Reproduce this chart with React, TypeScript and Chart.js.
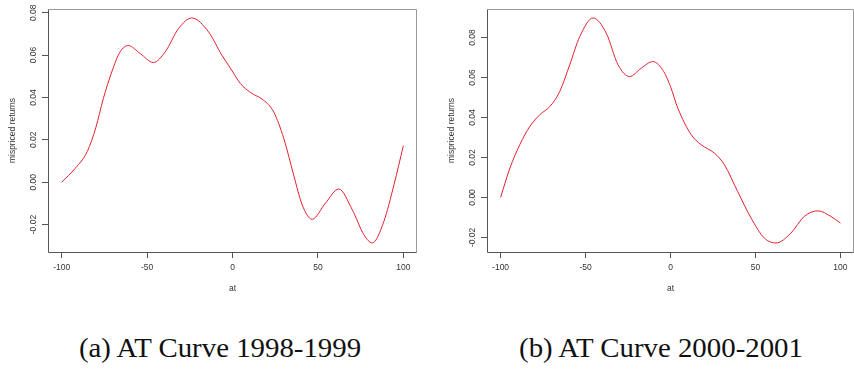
import React, { useEffect, useRef } from "react";
import { Chart, registerables } from "chart.js";

Chart.register(...registerables);

// ---- data ----
const xTicks = [-100, -50, 0, 50, 100];
const yTicksA = [-0.02, 0, 0.02, 0.04, 0.06, 0.08];
const yTicksB = [-0.02, 0, 0.02, 0.04, 0.06, 0.08];

const atA = [-100, -92, -85, -80, -75.6, -70.7, -65.8, -61, -54, -46.3, -39.4, -31.6, -23.8, -14, -6.2, -1.3, 4.6, 10.4, 18.2, 24.1, 30, 35.8, 40.8, 46.6, 54.4, 62.2, 70.1, 76.9, 81.8, 88.6, 94.5, 100];
const returnsA = [0, 0.0066, 0.0145, 0.0258, 0.0395, 0.052, 0.0615, 0.0645, 0.0607, 0.0565, 0.0615, 0.0725, 0.0775, 0.0709, 0.0599, 0.0539, 0.0466, 0.0424, 0.0387, 0.0332, 0.0207, 0.0034, -0.0107, -0.0175, -0.0099, -0.0032, -0.013, -0.0248, -0.0287, -0.0185, -0.0013, 0.0172];

const atB = [-100, -94.5, -88.7, -82.8, -76.9, -71, -65.2, -59.3, -53.4, -45.6, -37.8, -30.9, -24.1, -17.2, -10.4, -4, 0, 4.3, 12.2, 18, 25.8, 31.7, 39.5, 47.4, 55.2, 62.1, 70.9, 78.7, 86.9, 94.4, 100];
const returnsB = [0, 0.0147, 0.0264, 0.0355, 0.0414, 0.0455, 0.053, 0.0664, 0.0805, 0.0898, 0.0822, 0.0664, 0.0605, 0.0647, 0.068, 0.063, 0.0555, 0.0447, 0.0314, 0.0264, 0.0222, 0.0164, 0.003, -0.0103, -0.0203, -0.0228, -0.0178, -0.0095, -0.0067, -0.0095, -0.0128];

const xTitle = "at";
const yTitle = "mispriced returns";
const captionA = "(a) AT Curve 1998-1999";
const captionB = "(b) AT Curve 2000-2001";

// ---- helpers ----
function rRange(vals: number[]): [number, number] {
  const lo = Math.min(...vals);
  const hi = Math.max(...vals);
  const d = (hi - lo) * 0.04;
  return [lo - d, hi + d];
}

const tickFont = { family: "'Liberation Sans', Arial, sans-serif", size: 8.5 };
const textColor = "#333";

const boxPlugin = {
  id: "rbox",
  afterDatasetsDraw(chart: any) {
    const { ctx, chartArea: a } = chart;
    ctx.save();
    ctx.lineWidth = 1;
    ctx.strokeStyle = "#9a9a9a";
    ctx.beginPath();
    ctx.moveTo(a.left + 0.5, a.top + 0.5);
    ctx.lineTo(a.right - 0.5, a.top + 0.5);
    ctx.lineTo(a.right - 0.5, a.bottom + 0.5);
    ctx.stroke();
    ctx.strokeStyle = "#555";
    ctx.beginPath();
    ctx.moveTo(a.left + 0.5, a.top + 0.5);
    ctx.lineTo(a.left + 0.5, a.bottom + 0.5);
    ctx.lineTo(a.right - 0.5, a.bottom + 0.5);
    ctx.stroke();
    ctx.restore();
  },
};

function makeConfig(xs: number[], ys: number[], yTicks: number[], padLeft: number, padRight: number): any {
  const [xmin, xmax] = rRange(xs);
  const [ymin, ymax] = rRange(ys);
  return {
    type: "line",
    data: {
      datasets: [
        {
          data: xs.map((x, i) => ({ x, y: ys[i] })),
          borderColor: "#e4202e",
          borderWidth: 1,
          pointRadius: 0,
          cubicInterpolationMode: "monotone",
          fill: false,
        },
      ],
    },
    options: {
      animation: false,
      responsive: false,
      maintainAspectRatio: false,
      layout: { padding: { left: padLeft, right: padRight, top: 9, bottom: 0 } },
      plugins: { legend: { display: false }, tooltip: { enabled: false } },
      scales: {
        x: {
          type: "linear",
          min: xmin,
          max: xmax,
          afterBuildTicks: (s: any) => {
            s.ticks = xTicks.map((v) => ({ value: v }));
          },
          afterFit: (s: any) => {
            s.height = 48;
          },
          grid: { display: true, drawOnChartArea: false, drawTicks: true, tickLength: 6, color: "#555", lineWidth: 1 },
          border: { display: false },
          ticks: {
            padding: 5,
            font: tickFont,
            color: textColor,
            maxRotation: 0,
            minRotation: 0,
            autoSkip: false,
            callback: (v: any) => String(v),
          },
          title: { display: true, text: xTitle, font: tickFont, color: textColor, padding: { top: 0, bottom: 6 } },
        },
        y: {
          type: "linear",
          min: ymin,
          max: ymax,
          afterBuildTicks: (s: any) => {
            s.ticks = yTicks.map((v) => ({ value: v }));
          },
          afterFit: (s: any) => {
            s.width = 48;
          },
          grid: { display: true, drawOnChartArea: false, drawTicks: true, tickLength: 6, color: "#555", lineWidth: 1 },
          border: { display: false },
          ticks: {
            padding: -1,
            font: tickFont,
            color: textColor,
            minRotation: 90,
            maxRotation: 90,
            crossAlign: "center",
            autoSkip: false,
            callback: (v: any) => Number(v).toFixed(2),
          },
          title: { display: true, text: yTitle, font: tickFont, color: textColor, padding: { top: 7.6, bottom: 0 } },
        },
      },
    },
    plugins: [boxPlugin],
  };
}

function Plot(props: { xs: number[]; ys: number[]; yTicks: number[]; padLeft: number; padRight: number; left: number }) {
  const ref = useRef<HTMLCanvasElement | null>(null);
  useEffect(() => {
    if (!ref.current) return;
    const chart = new Chart(ref.current, makeConfig(props.xs, props.ys, props.yTicks, props.padLeft, props.padRight));
    return () => chart.destroy();
  }, []);
  return (
    <canvas
      ref={ref}
      width={427}
      height={300}
      style={{ position: "absolute", left: props.left, top: 0, width: 427, height: 300 }}
    />
  );
}

const captionStyle: React.CSSProperties = {
  position: "absolute",
  top: 333.5,
  fontFamily: "'Liberation Serif', 'Times New Roman', serif",
  fontSize: 28,
  lineHeight: "28px",
  color: "#111",
  whiteSpace: "nowrap",
  transform: "translateX(-50%) scaleX(1.03)",
};

export default function App() {
  return (
    <div
      style={{
        position: "fixed",
        left: 0,
        top: 0,
        width: 854,
        height: 369,
        overflow: "hidden",
        background: "#fff",
      }}
    >
      <Plot xs={atA} ys={returnsA} yTicks={yTicksA} padLeft={0} padRight={10} left={0} />
      <Plot xs={atB} ys={returnsB} yTicks={yTicksB} padLeft={12} padRight={0} left={427} />
      <div style={{ ...captionStyle, left: 220 }}>{captionA}</div>
      <div style={{ ...captionStyle, left: 661 }}>{captionB}</div>
    </div>
  );
}
